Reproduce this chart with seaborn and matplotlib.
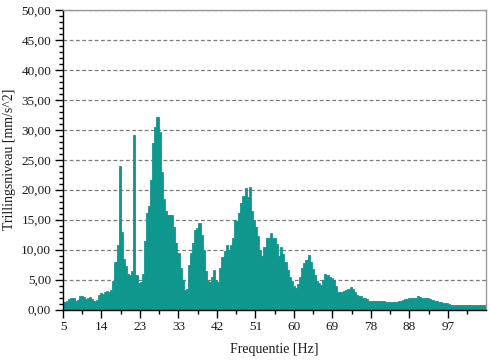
import numpy as np
import pandas as pd
import matplotlib
matplotlib.use("Agg")
import matplotlib.pyplot as plt
from matplotlib.ticker import MultipleLocator, FixedLocator
import seaborn as sns

# ---- data (frequency bins 0.5 Hz wide, centres from 5.0 to 105.5 Hz) ----
freq_start = 5.0
freq_step = 0.5
level = [
    1.3, 1.2, 1.5, 1.8, 2.0, 1.9, 1.5, 1.6, 2.2, 2.3,        # 5.0 - 9.5
    2.1, 1.7, 2.0, 2.1, 1.7, 1.5, 1.6, 2.4, 2.7, 2.6,        # 10.0 - 14.5
    3.0, 3.1, 3.0, 3.2, 4.8, 8.0, 10.8, 23.9, 13.0, 8.5,     # 15.0 - 19.5
    7.2, 6.0, 5.8, 6.5, 29.1, 5.8, 4.4, 4.6, 6.0, 11.5,      # 20.0 - 24.5
    16.1, 17.2, 21.6, 27.8, 30.5, 32.2, 29.6, 23.0, 18.5, 16.5,  # 25.0 - 29.5
    15.8, 15.8, 15.8, 13.8, 11.1, 9.4, 7.0, 5.0, 3.3, 3.5,   # 30.0 - 34.5
    7.5, 9.5, 11.1, 13.3, 13.6, 14.4, 12.5, 10.0, 6.5, 4.8,  # 35.0 - 39.5
    4.6, 5.5, 6.6, 5.0, 4.6, 7.0, 8.8, 9.8, 10.8, 10.0,      # 40.0 - 44.5
    10.8, 12.0, 15.0, 14.8, 16.1, 17.8, 19.0, 20.3, 18.8, 20.5,  # 45.0 - 49.5
    16.5, 14.9, 13.8, 12.2, 10.0, 9.0, 10.5, 11.9, 12.0, 12.8,   # 50.0 - 54.5
    11.9, 11.9, 11.0, 9.0, 10.5, 9.2, 8.0, 6.6, 5.5, 4.7,    # 55.0 - 59.5
    4.0, 3.6, 4.2, 5.5, 7.0, 7.8, 8.3, 9.1, 8.0, 6.8,        # 60.0 - 64.5
    5.8, 4.8, 4.4, 4.1, 5.0, 6.0, 5.8, 5.5, 5.2, 5.0,        # 65.0 - 69.5
    4.0, 3.0, 2.9, 2.9, 3.1, 3.2, 3.4, 3.7, 3.4, 3.0,        # 70.0 - 74.5
    2.5, 2.25, 2.25, 2.0, 1.9, 1.7, 1.5, 1.5, 1.5, 1.5,      # 75.0 - 79.5
    1.45, 1.45, 1.4, 1.35, 1.3, 1.3, 1.3, 1.3, 1.3, 1.3,     # 80.0 - 84.5
    1.4, 1.5, 1.6, 1.7, 1.8, 1.9, 1.9, 2.0, 2.0, 2.3,        # 85.0 - 89.5
    2.1, 1.9, 1.9, 2.0, 2.0, 1.8, 1.6, 1.5, 1.4, 1.3,        # 90.0 - 94.5
    1.2, 1.1, 1.1, 1.05, 0.9, 0.75, 0.75, 0.8, 0.75, 0.75,   # 95.0 - 99.5
    0.8, 0.75, 0.75, 0.8, 0.75, 0.75, 0.8, 0.75, 0.75, 0.8,  # 100.0 - 104.5
    0.8, 0.8,                                                # 105.0 - 105.5
]
freq = freq_start + freq_step * np.arange(len(level))

x_tick_labels = ["5", "14", "23", "33", "42", "51", "60", "69", "78", "88", "97"]
y_tick_values = [0, 5, 10, 15, 20, 25, 30, 35, 40, 45, 50]
y_tick_labels = ["0,00", "5,00", "10,00", "15,00", "20,00", "25,00",
                 "30,00", "35,00", "40,00", "45,00", "50,00"]

x_label = "Frequentie [Hz]"
y_label = "Trillingsniveau [mm/s^2]"

# ---- styling ----
sns.set_theme(style="white")
plt.rcParams["font.family"] = ["Liberation Serif", "DejaVu Serif"]
teal = "#0f978e"

fig = plt.figure(figsize=(4.9, 3.6), dpi=100)
fig.patch.set_facecolor("white")
ax = fig.add_axes([63 / 490, 1 - 309.5 / 360, (486 - 63) / 490, (309.5 - 10) / 360])

df = pd.DataFrame({"freq": freq, "level": level})
edges = [float(f - freq_step / 2) for f in freq] + [float(freq[-1] + freq_step / 2)]
sns.histplot(data=df, x="freq", weights="level", bins=edges, element="bars",
             fill=True, color=teal, alpha=1.0, edgecolor=teal, linewidth=0.6, ax=ax)

ax.set_xlim(5, 105.75)
ax.set_ylim(0, 50)

tick_step = 110 / 12
x_ticks = [5 + i * tick_step for i in range(len(x_tick_labels))]
ax.set_xticks(x_ticks)
ax.set_xticklabels(x_tick_labels)
ax.xaxis.set_minor_locator(FixedLocator([5 + (i + 0.5) * tick_step for i in range(11)]))
ax.set_yticks(y_tick_values)
ax.set_yticklabels(y_tick_labels)
ax.yaxis.set_minor_locator(MultipleLocator(1))

ax.tick_params(axis="both", which="major", direction="out", length=6, width=1,
               color="black", labelsize=9.5, labelcolor="#1a1a1a", pad=2.5,
               bottom=True, left=True)
ax.tick_params(axis="both", which="minor", direction="out", length=3, width=1,
               color="black", bottom=True, left=True)

ax.yaxis.grid(True, which="major", linestyle=(0, (3, 2)), color="#7a7a7a", linewidth=0.9)
ax.xaxis.grid(False)
ax.set_axisbelow(True)

for side in ("left", "bottom"):
    ax.spines[side].set_color("black")
    ax.spines[side].set_linewidth(1)
for side in ("top", "right"):
    ax.spines[side].set_color("#9a9a9a")
    ax.spines[side].set_linewidth(1)

ax.set_xlabel(x_label, fontsize=10, color="#1a1a1a", labelpad=7)
ax.set_ylabel(y_label, fontsize=10, color="#1a1a1a", labelpad=4)

fig.savefig("out.png", dpi=100, facecolor="white")
